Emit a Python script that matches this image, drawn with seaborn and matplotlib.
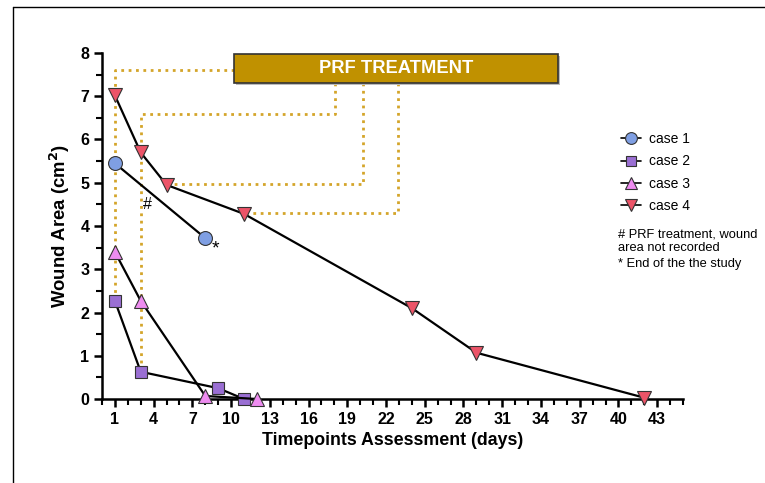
import matplotlib
matplotlib.use("Agg")
import matplotlib.pyplot as plt
from matplotlib.lines import Line2D
from matplotlib.patches import Rectangle
from matplotlib.ticker import MultipleLocator, FixedLocator
import seaborn as sns
import pandas as pd

sns.set_style("ticks")
plt.rcParams['font.family'] = ['Liberation Sans', 'DejaVu Sans']
plt.rcParams['text.color'] = 'black'
plt.rcParams['axes.labelcolor'] = 'black'
plt.rcParams['xtick.color'] = 'black'
plt.rcParams['ytick.color'] = 'black'
plt.rcParams['axes.edgecolor'] = 'black'

# ---- data ----
case1_days = [1, 8]
case1_area = [5.45, 3.72]
case2_days = [1, 3, 9, 11]
case2_area = [2.27, 0.63, 0.25, 0.0]
case3_days = [1, 3, 8, 12]
case3_area = [3.40, 2.27, 0.07, 0.0]
case4_days = [1, 3, 5, 11, 24, 29, 42]
case4_area = [7.02, 5.70, 4.95, 4.28, 2.10, 1.07, 0.03]
case_names = ["case 1", "case 2", "case 3", "case 4"]
xtick_labels = [1, 4, 7, 10, 13, 16, 19, 22, 25, 28, 31, 34, 37, 40, 43]

styles = {
    "case 1": dict(marker="o", color="#7f9fe3", ms=10),
    "case 2": dict(marker="s", color="#9a6fd3", ms=9),
    "case 3": dict(marker="^", color="#ee8cf0", ms=10),
    "case 4": dict(marker="v", color="#ec5468", ms=10),
}
series = {
    "case 1": (case1_days, case1_area),
    "case 2": (case2_days, case2_area),
    "case 3": (case3_days, case3_area),
    "case 4": (case4_days, case4_area),
}

fig = plt.figure(figsize=(7.65, 4.83), dpi=100)
ax = fig.add_axes([0.1333, 0.1739, 0.7595, 0.7164])

gold = "#d4a52a"
# PRF treatment connectors (dotted gold)
ax.plot([10.2, 1, 1, 1], [7.6, 7.6, 7.6, 2.27], ls=":", color=gold, lw=2, zorder=1)
ax.plot([18.05, 18.05, 3, 3], [7.3, 6.6, 6.6, 0.63], ls=":", color=gold, lw=2, zorder=1)
ax.plot([20.2, 20.2, 5], [7.3, 4.97, 4.97], ls=":", color=gold, lw=2, zorder=1)
ax.plot([22.9, 22.9, 11], [7.3, 4.3, 4.3], ls=":", color=gold, lw=2, zorder=1)

for name in case_names:
    d, a = series[name]
    df = pd.DataFrame({"day": d, "area": a})
    st = styles[name]
    sns.lineplot(data=df, x="day", y="area", ax=ax, color="black", lw=1.6,
                 marker=st["marker"], markersize=st["ms"],
                 markerfacecolor=st["color"], markeredgecolor="#333333",
                 markeredgewidth=0.8, zorder=3, clip_on=False)

# PRF treatment box
shadow = Rectangle((10.35, 7.25), 25.1, 0.68, facecolor="#bbbbbb", edgecolor="none",
                   zorder=4, clip_on=False)
ax.add_patch(shadow)
box = Rectangle((10.2, 7.3), 25.1, 0.68, facecolor="#c09100", edgecolor="#333333",
                lw=1.2, zorder=5, clip_on=False)
ax.add_patch(box)
ax.text(22.75, 7.64, "PRF TREATMENT", color="white", fontsize=13.2, fontweight="bold",
        ha="center", va="center", zorder=6)

ax.text(3.55, 4.5, "#", fontsize=11.5, ha="center", va="center")
ax.text(8.8, 3.48, "*", fontsize=14, ha="center", va="center")

ax.set_xlim(0, 45)
ax.set_ylim(0, 8)
ax.xaxis.set_major_locator(FixedLocator(xtick_labels))
ax.set_xticklabels([str(v) for v in xtick_labels])
ax.xaxis.set_minor_locator(MultipleLocator(1))
ax.yaxis.set_major_locator(MultipleLocator(1))
ax.yaxis.set_minor_locator(MultipleLocator(0.5))
ax.tick_params(axis="both", which="major", length=6, width=1.8, labelsize=11.5, pad=3)
ax.tick_params(axis="both", which="minor", length=4, width=1.5)
for lab in ax.get_xticklabels() + ax.get_yticklabels():
    lab.set_fontweight("bold")
for s in ["left", "bottom"]:
    ax.spines[s].set_linewidth(1.8)
sns.despine(ax=ax)

ax.set_xlabel("Timepoints Assessment (days)", fontsize=12.8, fontweight="bold", labelpad=4)
ax.set_ylabel("Wound Area (cm$^\\mathbf{2}$)", fontsize=13.3, fontweight="bold", labelpad=6)

handles = [Line2D([0], [0], color="black", lw=1.2, marker=styles[n]["marker"],
                  markersize=styles[n]["ms"] * 0.85, markerfacecolor=styles[n]["color"],
                  markeredgecolor="#333333", markeredgewidth=0.8) for n in case_names]
fig.legend(handles, case_names, loc="upper left", bbox_to_anchor=(0.805, 0.738),
           frameon=False, fontsize=10, handlelength=1.4, handletextpad=0.6,
           labelspacing=0.6, borderaxespad=0)

fig.text(0.808, 0.527, "# PRF treatment, wound\narea not recorded", fontsize=9.3,
         va="top", ha="left", linespacing=1.15)
fig.text(0.808, 0.465, "* End of the the study", fontsize=9.3, va="top", ha="left")

# outer frame
fig.add_artist(Line2D([13 / 765, 13 / 765], [0, 1 - 7 / 483], color="black", lw=1.0,
                      transform=fig.transFigure))
fig.add_artist(Line2D([13 / 765, 1], [1 - 7 / 483, 1 - 7 / 483], color="black", lw=1.0,
                      transform=fig.transFigure))

fig.savefig("out.png", dpi=100)
